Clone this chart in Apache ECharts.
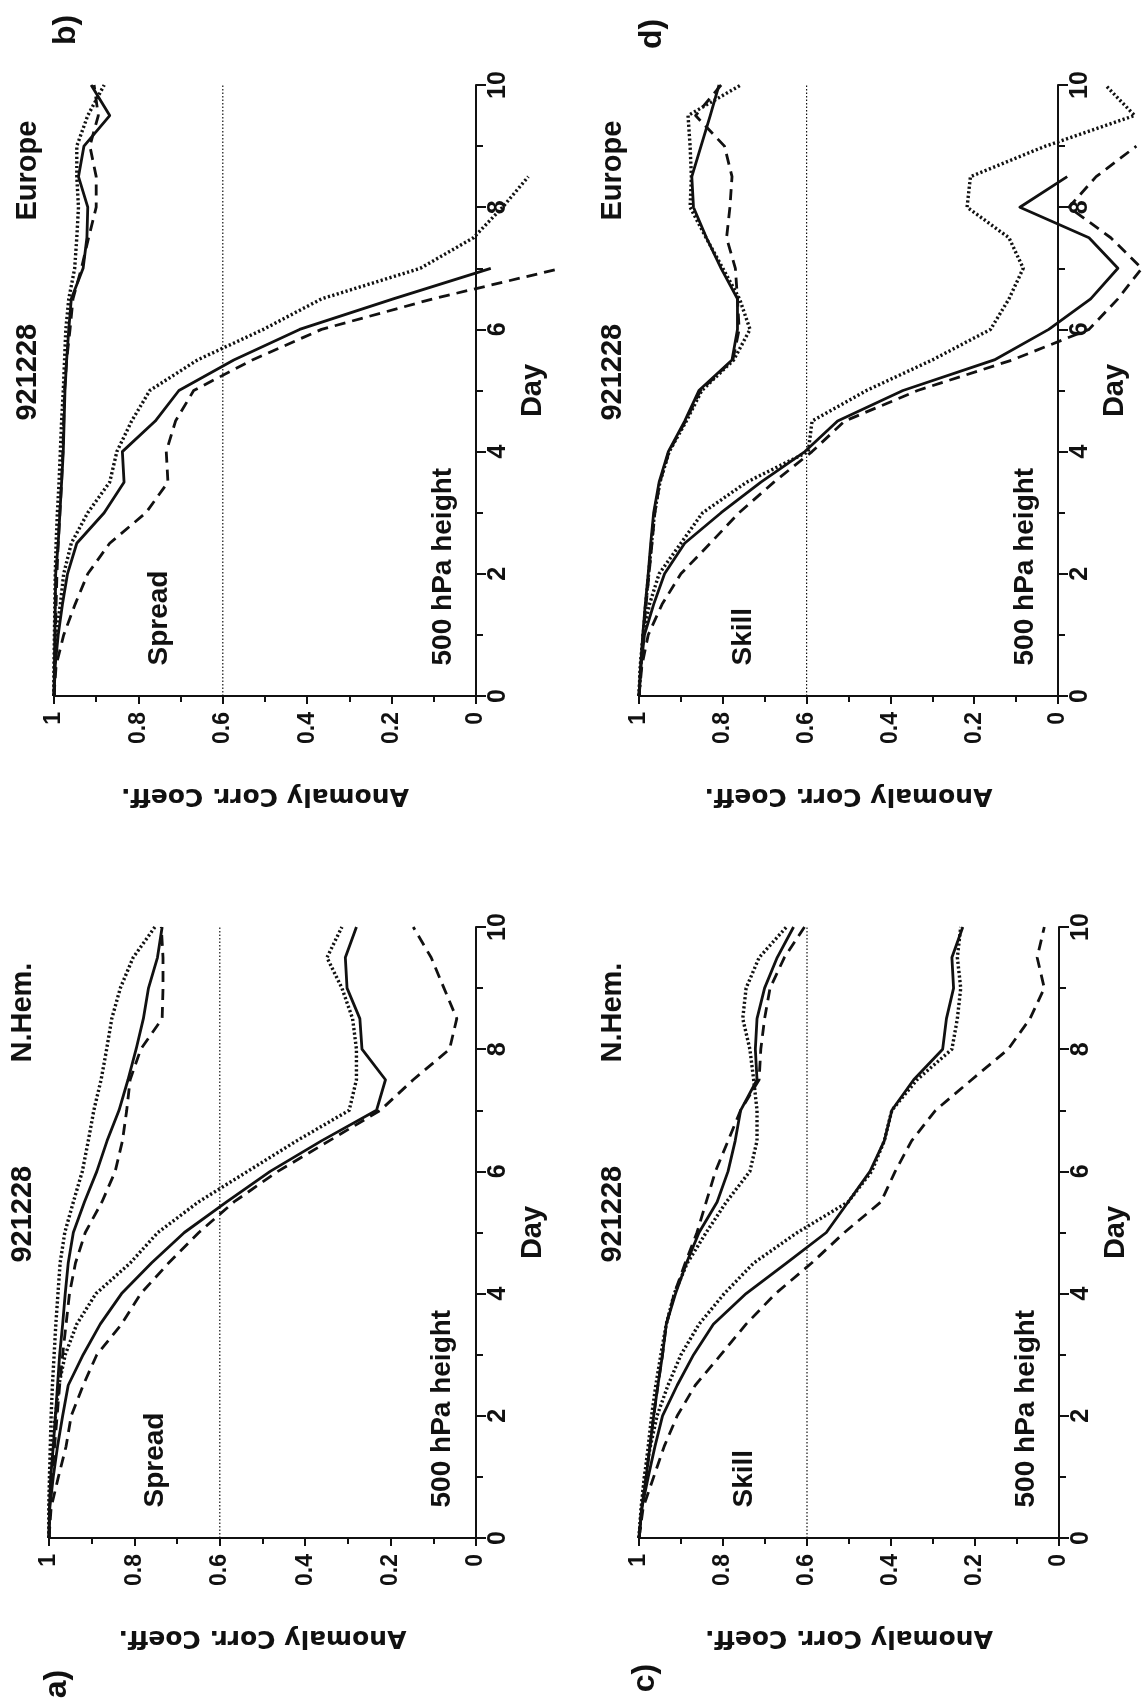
<!DOCTYPE html>
<html>
<head>
<meta charset="utf-8">
<title>921228 - Anomaly Corr. Coeff., 500 hPa height</title>
<script src="https://cdn.jsdelivr.net/npm/echarts@6/dist/echarts.min.js"></script>
<style>
  html, body { margin: 0; padding: 0; background: #fff; }
  #chart { width: 1143px; height: 1706px; }
</style>
</head>
<body>
<div id="chart"></div>
<script>
// forecast day (x of the original plot)
var days = [0, 0.5, 1, 1.5, 2, 2.5, 3, 3.5, 4, 4.5, 5, 5.5, 6, 6.5, 7, 7.5, 8, 8.5, 9, 9.5, 10];
var refAcc = 0.6;

// a) N.Hem. Spread
var aUpSolid   = [1, 0.999, 0.996, 0.99, 0.985, 0.98, 0.975, 0.968, 0.962, 0.955, 0.943, 0.917, 0.888, 0.864, 0.836, 0.815, 0.796, 0.779, 0.767, 0.746, 0.735];
var aUpDashed  = [1, 0.998, 0.993, 0.987, 0.981, 0.975, 0.968, 0.96, 0.952, 0.938, 0.915, 0.876, 0.845, 0.828, 0.818, 0.81, 0.785, 0.735, 0.733, 0.733, 0.737];
var aUpDotted  = [1, 1, 0.999, 0.997, 0.995, 0.992, 0.988, 0.984, 0.979, 0.974, 0.963, 0.943, 0.922, 0.908, 0.895, 0.878, 0.865, 0.853, 0.833, 0.803, 0.752];
var aLowSolid  = [1, 0.998, 0.99, 0.98, 0.968, 0.955, 0.92, 0.88, 0.83, 0.76, 0.683, 0.584, 0.482, 0.362, 0.233, 0.212, 0.267, 0.272, 0.302, 0.306, 0.28];
var aLowDashed = [1, 0.995, 0.978, 0.96, 0.948, 0.92, 0.888, 0.83, 0.785, 0.72, 0.649, 0.567, 0.464, 0.344, 0.224, 0.147, 0.062, 0.045, 0.075, 0.105, 0.147];
var aLowDotted = [1, 1, 0.998, 0.993, 0.985, 0.977, 0.962, 0.935, 0.89, 0.81, 0.745, 0.65, 0.535, 0.42, 0.297, 0.28, 0.28, 0.289, 0.314, 0.349, 0.314];

// b) Europe Spread
var bUpSolid   = [1, 0.999, 0.998, 0.997, 0.996, 0.99, 0.986, 0.982, 0.978, 0.976, 0.974, 0.97, 0.965, 0.959, 0.931, 0.922, 0.92, 0.942, 0.929, 0.868, 0.912];
var bUpDashed  = [1, 0.998, 0.997, 0.995, 0.993, 0.99, 0.986, 0.982, 0.979, 0.977, 0.975, 0.97, 0.962, 0.955, 0.935, 0.918, 0.9, 0.9, 0.915, 0.895, 0.905];
var bUpDotted  = [1, 1, 0.999, 0.998, 0.997, 0.995, 0.992, 0.988, 0.985, 0.982, 0.978, 0.975, 0.972, 0.965, 0.951, 0.946, 0.942, 0.946, 0.946, 0.92, 0.881];
var bLowSolid  = [1, 0.997, 0.99, 0.98, 0.968, 0.946, 0.881, 0.834, 0.838, 0.76, 0.704, 0.574, 0.418, 0.196, -0.035];
var bLowDashed = [1, 0.995, 0.977, 0.95, 0.92, 0.868, 0.782, 0.73, 0.734, 0.712, 0.669, 0.53, 0.366, 0.102, -0.202];
var bLowDotted = [1, 0.999, 0.995, 0.985, 0.977, 0.959, 0.92, 0.868, 0.851, 0.816, 0.773, 0.66, 0.504, 0.366, 0.132, 0.006, -0.063, -0.124];

// c) N.Hem. Skill
var cUpSolid   = [1, 0.993, 0.983, 0.974, 0.965, 0.955, 0.944, 0.935, 0.913, 0.887, 0.857, 0.814, 0.788, 0.771, 0.758, 0.719, 0.723, 0.719, 0.701, 0.671, 0.632];
var cUpDashed  = [1, 0.993, 0.983, 0.974, 0.965, 0.955, 0.944, 0.935, 0.916, 0.89, 0.862, 0.84, 0.818, 0.788, 0.758, 0.714, 0.71, 0.701, 0.688, 0.654, 0.606];
var cUpDotted  = [1, 0.994, 0.987, 0.978, 0.97, 0.96, 0.948, 0.935, 0.916, 0.885, 0.84, 0.792, 0.736, 0.719, 0.719, 0.727, 0.736, 0.753, 0.745, 0.714, 0.649];
var cLowSolid  = [1, 0.993, 0.978, 0.962, 0.944, 0.909, 0.87, 0.823, 0.745, 0.649, 0.554, 0.502, 0.45, 0.416, 0.398, 0.346, 0.277, 0.268, 0.251, 0.255, 0.229];
var cLowDashed = [1, 0.99, 0.965, 0.94, 0.909, 0.866, 0.805, 0.745, 0.675, 0.589, 0.511, 0.424, 0.39, 0.351, 0.294, 0.208, 0.121, 0.069, 0.035, 0.052, 0.035];
var cLowDotted = [1, 0.995, 0.987, 0.973, 0.957, 0.931, 0.9, 0.857, 0.797, 0.727, 0.623, 0.502, 0.446, 0.416, 0.398, 0.338, 0.255, 0.242, 0.234, 0.242, 0.234];

// d) Europe Skill
var dUpSolid   = [1, 0.996, 0.991, 0.985, 0.978, 0.972, 0.965, 0.952, 0.93, 0.891, 0.857, 0.778, 0.765, 0.765, 0.804, 0.839, 0.87, 0.874, 0.852, 0.83, 0.809];
var dUpDashed  = [1, 0.995, 0.99, 0.983, 0.976, 0.969, 0.962, 0.95, 0.928, 0.889, 0.853, 0.776, 0.761, 0.765, 0.77, 0.791, 0.783, 0.778, 0.796, 0.865, 0.804];
var dUpDotted  = [1, 0.996, 0.99, 0.984, 0.977, 0.97, 0.963, 0.95, 0.928, 0.887, 0.85, 0.774, 0.735, 0.76, 0.8, 0.84, 0.878, 0.875, 0.878, 0.883, 0.757];
var dLowSolid  = [1, 0.995, 0.987, 0.965, 0.939, 0.891, 0.804, 0.709, 0.604, 0.526, 0.37, 0.152, 0.022, -0.078, -0.143, -0.074, 0.091, -0.022];
var dLowDashed = [1, 0.993, 0.978, 0.945, 0.9, 0.83, 0.761, 0.678, 0.587, 0.509, 0.335, 0.109, -0.074, -0.143, -0.2, -0.126, -0.026, -0.091, -0.187];
var dLowDotted = [1, 0.997, 0.99, 0.975, 0.952, 0.9, 0.848, 0.743, 0.596, 0.587, 0.457, 0.3, 0.161, 0.117, 0.083, 0.117, 0.217, 0.209, 0.03, -0.183, -0.113];

var dateLabel = '921228';
var fieldLabel = '500 hPa height';

var panels = [
  { tag: 'a)', region: 'N.Hem.', kind: 'Spread', left: 49, top: 927, width: 427, height: 611, tagPos: [57, 1684],
    curves: [aUpSolid, aUpDashed, aUpDotted, aLowSolid, aLowDashed, aLowDotted] },
  { tag: 'b)', region: 'Europe', kind: 'Spread', left: 54, top: 85, width: 422, height: 611, tagPos: [66, 30],
    curves: [bUpSolid, bUpDashed, bUpDotted, bLowSolid, bLowDashed, bLowDotted] },
  { tag: 'c)', region: 'N.Hem.', kind: 'Skill', left: 639, top: 927, width: 420, height: 611, tagPos: [645, 1678],
    curves: [cUpSolid, cUpDashed, cUpDotted, cLowSolid, cLowDashed, cLowDotted] },
  { tag: 'd)', region: 'Europe', kind: 'Skill', left: 639, top: 85, width: 419, height: 611, tagPos: [652, 34],
    curves: [dUpSolid, dUpDashed, dUpDotted, dLowSolid, dLowDashed, dLowDotted] }
];

var ink = '#111';
var font = '"Liberation Sans", Arial, Helvetica, sans-serif';
var lineTypes = [
  { dash: null, width: 2.8 },
  { dash: [11, 7], width: 2.8 },
  { dash: [2.2, 2.4], width: 3.4 }
];

// a curve as one polyline; custom series so it may run past ACC = 0
function curveSeries(i, vals, ls) {
  var pts = vals.map(function (v, j) { return [v, days[j]]; });
  return {
    type: 'custom', xAxisIndex: i, yAxisIndex: i, clip: false, silent: true,
    data: pts,
    encode: { x: 0, y: 1 },
    renderItem: function (params, api) {
      if (params.dataIndex !== 0) return null;
      return {
        type: 'polyline',
        shape: { points: pts.map(function (d) { return api.coord(d); }) },
        style: { fill: null, stroke: ink, lineWidth: ls.width, lineDash: ls.dash, lineJoin: 'round', lineCap: 'butt' }
      };
    }
  };
}

var grids = [], xAxes = [], yAxes = [], series = [], texts = [];

panels.forEach(function (p, i) {
  grids.push({ left: p.left, top: p.top, width: p.width, height: p.height,
    containLabel: false, outerBoundsMode: 'none' });

  xAxes.push({
    gridIndex: i, type: 'value', min: 0, max: 1, interval: 0.2, inverse: true, position: 'bottom',
    name: 'Anomaly Corr. Coeff.', nameLocation: 'middle', nameRotate: 180, nameGap: 87,
    nameTextStyle: { fontFamily: '"DejaVu Sans", sans-serif', fontWeight: 'bold', fontSize: 25, color: ink },
    axisLine: { show: true, onZero: false, lineStyle: { color: ink, width: 2 } },
    axisTick: { show: true, length: 8, lineStyle: { color: ink, width: 2 } },
    minorTick: { show: true, splitNumber: 2, length: 6, lineStyle: { color: ink, width: 2 } },
    splitLine: { show: false },
    axisLabel: { rotate: 90, margin: 16, fontFamily: font, fontWeight: 'bold', fontSize: 23, color: ink }
  });

  yAxes.push({
    gridIndex: i, type: 'value', min: 0, max: 10, interval: 2, position: 'right',
    name: 'Day', nameLocation: 'middle', nameRotate: 90, nameGap: 42,
    nameTextStyle: { fontFamily: font, fontWeight: 'bold', fontSize: 29, color: ink },
    axisLine: { show: true, onZero: false, lineStyle: { color: ink, width: 2 } },
    axisTick: { show: true, length: 10, lineStyle: { color: ink, width: 2 } },
    minorTick: { show: true, splitNumber: 2, length: 7, lineStyle: { color: ink, width: 2 } },
    splitLine: { show: false },
    axisLabel: { rotate: 90, margin: 10, fontFamily: font, fontWeight: 'bold', fontSize: 25, color: ink }
  });

  // 0.6 reference line
  series.push({
    type: 'line', xAxisIndex: i, yAxisIndex: i, showSymbol: false, silent: true,
    data: [[refAcc, 0], [refAcc, 10]],
    lineStyle: { color: ink, width: 1.2, type: [1.5, 2] }
  });

  p.curves.forEach(function (vals, k) {
    series.push(curveSeries(i, vals, lineTypes[k % 3]));
  });

  // annotations, placed from the grid box
  var xOf = function (acc) { return p.left + (1 - acc) * p.width; };
  var yOf = function (day) { return p.top + (10 - day) / 10 * p.height; };
  var txt = function (s, x, y, size, align) {
    texts.push({
      type: 'text', x: x, y: y, rotation: Math.PI / 2, silent: true,
      style: { text: s, fill: ink, fontFamily: font, fontWeight: 'bold', fontSize: size,
        textAlign: align, textVerticalAlign: 'middle' }
    });
  };
  txt(dateLabel, p.left - 26, yOf(5.3), 29, 'center');
  txt(p.region, p.left - 26, yOf(8.6), 29, 'center');
  txt(p.kind, xOf(0.75), yOf(0.5), 28, 'left');
  txt(fieldLabel, xOf(0.078), yOf(0.5), 28, 'left');
  txt(p.tag, p.tagPos[0], p.tagPos[1], 32, 'center');
});

var chart = echarts.init(document.getElementById('chart'), null, { renderer: 'canvas' });
chart.setOption({
  backgroundColor: '#fff',
  animation: false,
  grid: grids,
  xAxis: xAxes,
  yAxis: yAxes,
  series: series,
  graphic: texts
});
</script>
</body>
</html>
